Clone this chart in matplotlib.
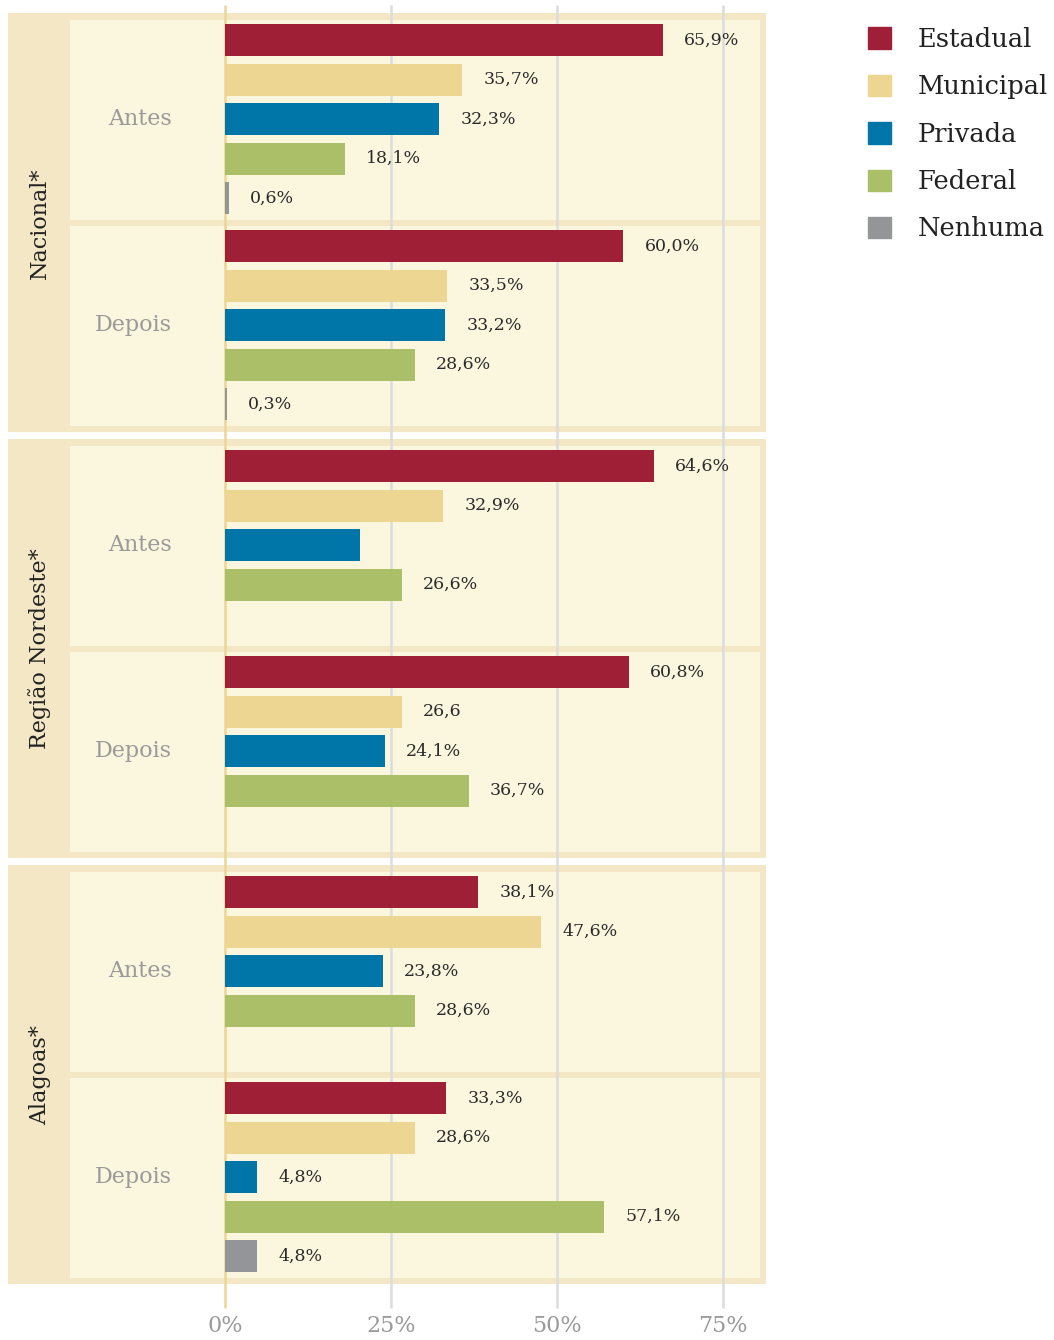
import matplotlib.pyplot as plt
from matplotlib.patches import Rectangle, Patch

plt.rcParams['font.family'] = ['DejaVu Serif']

categories = ["Estadual", "Municipal", "Privada", "Federal", "Nenhuma"]
colors = ["#9E1F36", "#EDD592", "#0075A8", "#ABBF69", "#939598"]
groups = ["Nacional*", "Região Nordeste*", "Alagoas*"]
periods = ["Antes", "Depois"]

# values in %, None = no bar
nacional_antes = [65.9, 35.7, 32.3, 18.1, 0.6]
nacional_depois = [60.0, 33.5, 33.2, 28.6, 0.3]
nordeste_antes = [64.6, 32.9, 20.3, 26.6, None]
nordeste_depois = [60.8, 26.6, 24.1, 36.7, None]
alagoas_antes = [38.1, 47.6, 23.8, 28.6, None]
alagoas_depois = [33.3, 28.6, 4.8, 57.1, 4.8]

nacional_antes_lbl = ["65,9%", "35,7%", "32,3%", "18,1%", "0,6%"]
nacional_depois_lbl = ["60,0%", "33,5%", "33,2%", "28,6%", "0,3%"]
nordeste_antes_lbl = ["64,6%", "32,9%", "", "26,6%", ""]
nordeste_depois_lbl = ["60,8%", "26,6", "24,1%", "36,7%", ""]
alagoas_antes_lbl = ["38,1%", "47,6%", "23,8%", "28,6%", ""]
alagoas_depois_lbl = ["33,3%", "28,6%", "4,8%", "57,1%", "4,8%"]

ticks = [0, 25, 50, 75]
tick_labels = ["0%", "25%", "50%", "75%"]

data = [[nacional_antes, nacional_depois],
        [nordeste_antes, nordeste_depois],
        [alagoas_antes, alagoas_depois]]
lbls = [[nacional_antes_lbl, nacional_depois_lbl],
        [nordeste_antes_lbl, nordeste_depois_lbl],
        [alagoas_antes_lbl, alagoas_depois_lbl]]

# layout (pixels)
W, H = 1054, 1340
X0 = 225          # pixel of 0%
PX = 6.64         # pixels per 1%
def v(px):
    return (px - X0) / PX

OUTER = "#F3E7C6"
PANEL = "#FBF6DE"

fig = plt.figure(figsize=(W / 100, H / 100), dpi=100)
ax = fig.add_axes([0, 0, 1, 1])
ax.set_xlim(v(0), v(W))
ax.set_ylim(H, 0)
ax.axis('off')

for g, gname in enumerate(groups):
    gtop = 13 + g * 426
    ax.add_patch(Rectangle((v(8), gtop), v(766) - v(8), 419, color=OUTER, lw=0, zorder=0))
    ax.text(v(40), gtop + 210, gname, rotation=90, ha='center', va='center',
            fontsize=16, color="#222222")
    for s, pname in enumerate(periods):
        stop = gtop + 7 + s * 206
        ax.add_patch(Rectangle((v(70), stop), v(760) - v(70), 200, color=PANEL, lw=0, zorder=1))
        ax.text(v(172), stop + 99, pname, ha='right', va='center',
                fontsize=16, color="#9A9A9A")
        vals = data[g][s]
        for k, val in enumerate(vals):
            if val is None:
                continue
            yc = stop + 20 + k * 39.6
            ax.barh(yc, val, height=32, color=colors[k], zorder=3)
            if lbls[g][s][k]:
                ax.text(val + 3.2, yc, lbls[g][s][k], ha='left', va='center',
                        fontsize=12.5, color="#2A2A2A", zorder=4)

# grid and zero line
for t in ticks[1:]:
    ax.vlines(t, 5, 1308, color="#DCDCDC", lw=1.8, zorder=2)
ax.vlines(0, 5, 1308, color="#EDD594", lw=1.8, zorder=2.5)
for t, tl in zip(ticks, tick_labels):
    ax.text(t, 1326, tl, ha='center', va='center', fontsize=16, color="#9A9A9A")

handles = [Patch(color=c) for c in colors]
fig.legend(handles, categories, loc='upper left',
           bbox_to_anchor=(868 / W, 1 - 27 / H), frameon=False,
           borderaxespad=0, borderpad=0,
           fontsize=18.5, handlelength=0.9, handleheight=0.9,
           handletextpad=1.05, labelspacing=0.87, labelcolor="#222222")

fig.savefig("out.png", dpi=100)
